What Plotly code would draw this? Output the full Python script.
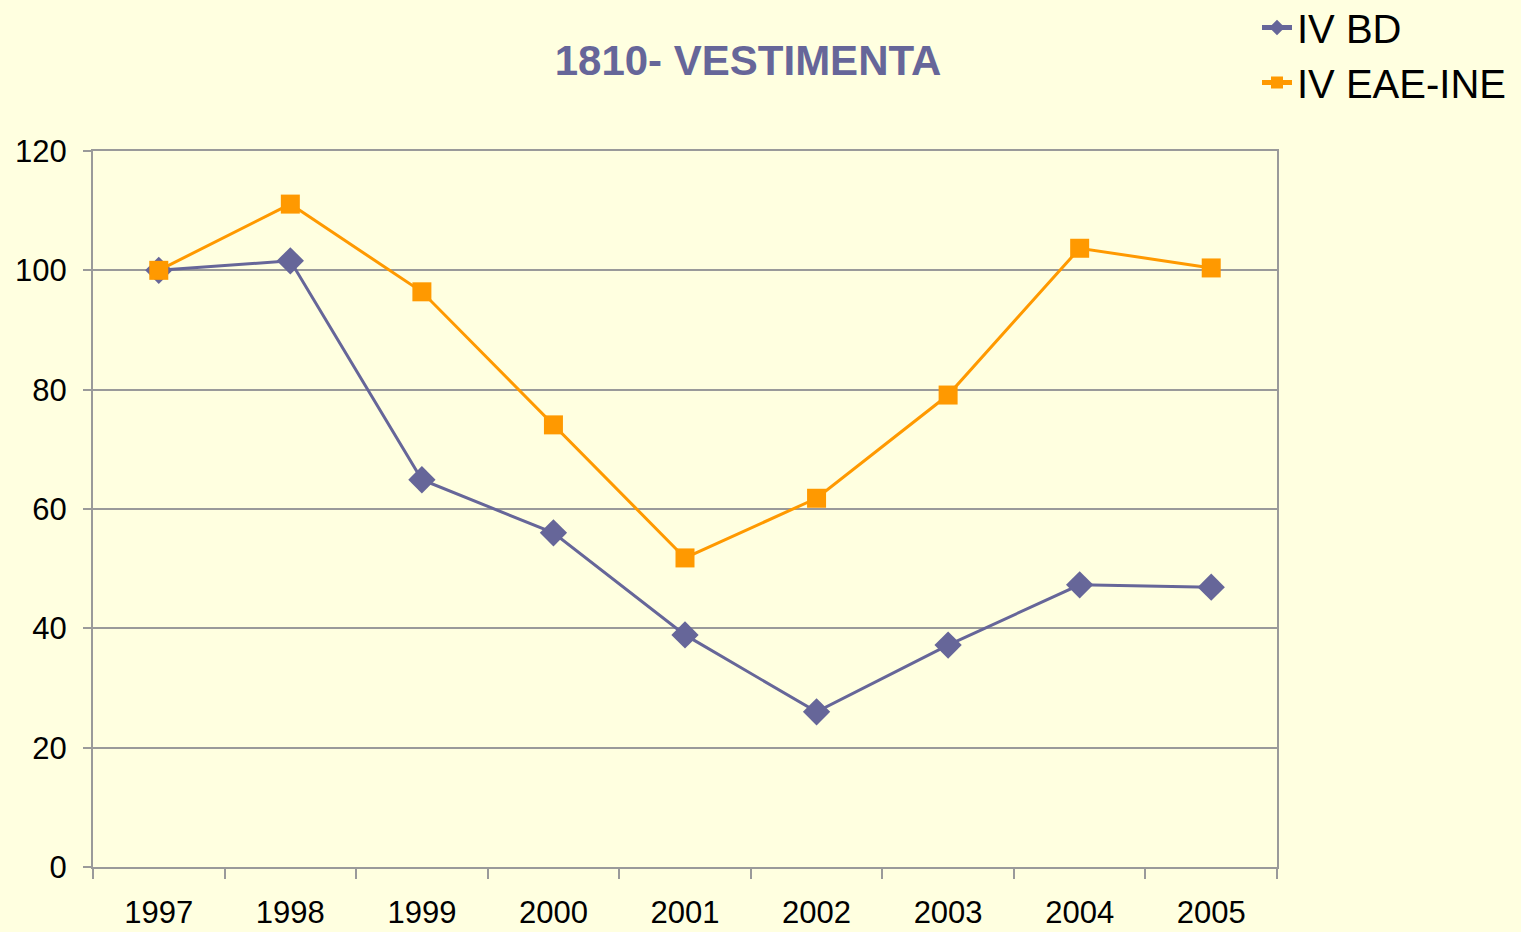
import plotly.graph_objects as go

years = ["1997", "1998", "1999", "2000", "2001", "2002", "2003", "2004", "2005"]
iv_bd = [100.0, 101.6, 64.9, 56.0, 38.9, 26.0, 37.2, 47.3, 46.9]
iv_eae_ine = [100.0, 111.1, 96.4, 74.1, 51.8, 61.8, 79.1, 103.7, 100.4]
y_ticks = [0, 20, 40, 60, 80, 100, 120]

BG = "#FFFFE0"
BLUE = "#666699"
ORANGE = "#FF9900"
GRID = "#9A9A9A"

fig = go.Figure()
fig.add_trace(go.Scatter(
    x=years, y=iv_bd, name="IV BD", mode="lines+markers",
    line=dict(color=BLUE, width=3),
    marker=dict(symbol="diamond", size=21, color=BLUE),
))
fig.add_trace(go.Scatter(
    x=years, y=iv_eae_ine, name="IV EAE-INE", mode="lines+markers",
    line=dict(color=ORANGE, width=3),
    marker=dict(symbol="square", size=19, color=ORANGE),
))

fig.update_layout(
    width=1521, height=932,
    paper_bgcolor=BG, plot_bgcolor=BG,
    margin=dict(l=93, r=244, t=151, b=65, autoexpand=False),
    font=dict(family="Arial, Liberation Sans, sans-serif", color="#000000", size=31),
    title=dict(
        text="<b>1810- VESTIMENTA</b>",
        font=dict(size=42, color=BLUE, family="Arial, Liberation Sans, sans-serif"),
        xref="container", yref="container",
        x=748 / 1521, xanchor="center",
        y=1 - 60 / 932, yanchor="middle",
    ),
    legend=dict(
        xref="container", yref="container",
        x=1257 / 1521, xanchor="left",
        y=1 - 55 / 932, yanchor="middle",
        font=dict(size=40, color="#000000"),
        bgcolor="rgba(0,0,0,0)",
        itemsizing="constant",
        tracegroupgap=0,
    ),
    showlegend=True,
)

fig.update_xaxes(
    type="category",
    range=[-0.5, 8.5],
    showline=True, linecolor=GRID, linewidth=2, mirror=True,
    ticks="outside", tickson="boundaries", ticklen=10, tickcolor=GRID, tickwidth=2,
    showgrid=False, zeroline=False,
    tickfont=dict(size=31),
    ticklabelstandoff=17,
)
fig.update_yaxes(
    range=[0, 120], tickvals=y_ticks,
    showline=True, linecolor=GRID, linewidth=2, mirror=True,
    ticks="outside", ticklen=8, tickcolor=GRID, tickwidth=2,
    showgrid=True, gridcolor=GRID, gridwidth=1.5,
    zeroline=False,
    tickfont=dict(size=31),
    ticklabelstandoff=10,
)

fig.write_html(
    "out.html",
    config={"displayModeBar": False},
    post_script="document.body.style.margin='0';document.body.style.background='#FFFFE0';",
)
